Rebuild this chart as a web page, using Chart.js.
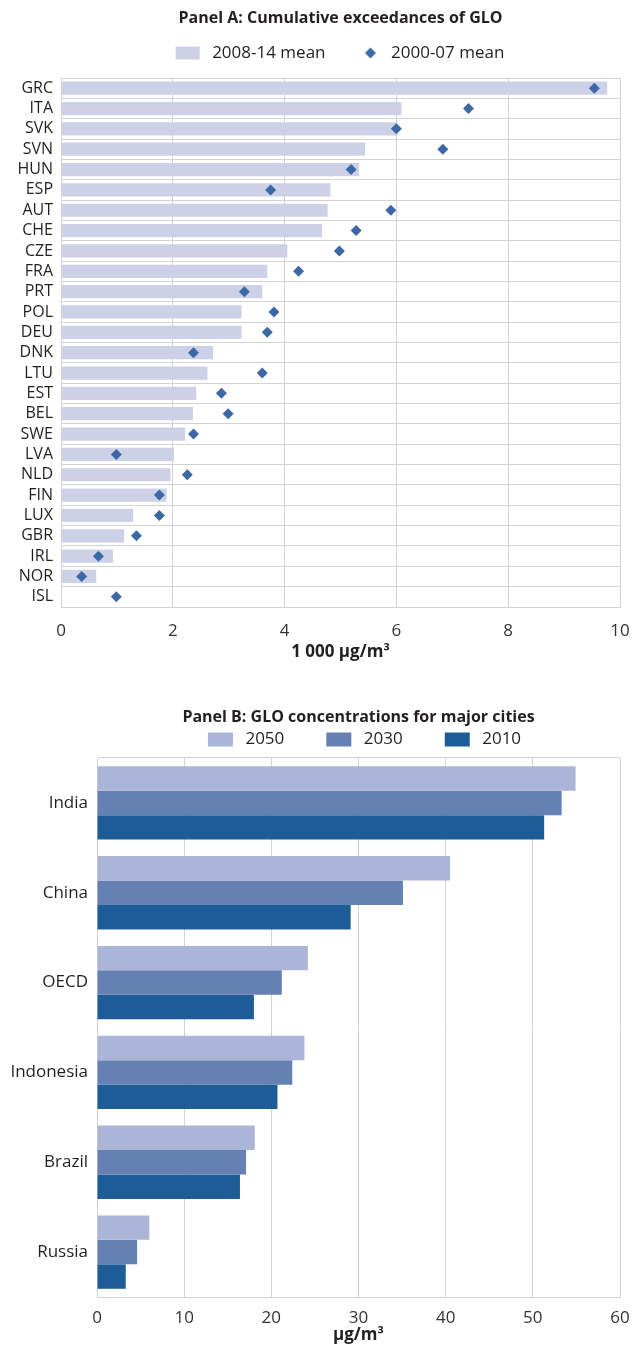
<!DOCTYPE html>
<html>
<head>
<meta charset="utf-8">
<script src="https://cdn.jsdelivr.net/npm/chart.js@4.4.1/dist/chart.umd.min.js"></script>
<style>
  html, body { margin: 0; padding: 0; background: #fff; overflow: hidden; }
  canvas { position: absolute; left: 0; }
  #chartA { top: 0; }
  #chartB { top: 680px; }
</style>
</head>
<body>
<canvas id="chartA" width="632" height="672"></canvas>
<canvas id="chartB" width="632" height="666"></canvas>
<script>
// Panel A data (1 000 µg/m³)
const countries = ["GRC", "ITA", "SVK", "SVN", "HUN", "ESP", "AUT", "CHE", "CZE", "FRA", "PRT", "POL", "DEU",
  "DNK", "LTU", "EST", "BEL", "SWE", "LVA", "NLD", "FIN", "LUX", "GBR", "IRL", "NOR", "ISL"];
const mean0814 = [9.77, 6.09, 6.02, 5.44, 5.33, 4.82, 4.77, 4.67, 4.05, 3.69, 3.60, 3.23, 3.23,
  2.72, 2.62, 2.42, 2.36, 2.22, 2.02, 1.96, 1.89, 1.29, 1.13, 0.93, 0.63, 0];
const mean0007 = [9.54, 7.29, 6.00, 6.83, 5.19, 3.75, 5.90, 5.28, 4.98, 4.25, 3.28, 3.81, 3.69,
  2.37, 3.60, 2.87, 2.99, 2.37, 0.99, 2.26, 1.76, 1.76, 1.35, 0.67, 0.37, 0.99];
const seriesA = ["2008-14 mean", "2000-07 mean"];

// Panel B data (µg/m³)
const cities = ["India", "China", "OECD", "Indonesia", "Brazil", "Russia"];
const years = ["2050", "2030", "2010"];
const glo2050 = [54.9, 40.5, 24.2, 23.8, 18.1, 6.0];
const glo2030 = [53.3, 35.1, 21.2, 22.4, 17.1, 4.6];
const glo2010 = [51.3, 29.1, 18.0, 20.7, 16.4, 3.3];

const FONT = "'Open Sans', 'Noto Sans', sans-serif";
const TEXT = "#231f20";
const GRID = "#d2d2d2";
const barA = "#cdd1e8";
const diamondA = "#3d68a6";
const colorsB = ["#abb5d7", "#6580b3", "#1d5c97"];

Chart.defaults.font.family = FONT;
Chart.defaults.color = TEXT;

// legend swatches drawn into small canvases so the gap before each one can be set
function swatch(w, h, draw) {
  const c = document.createElement("canvas");
  c.width = w;
  c.height = h;
  draw(c.getContext("2d"));
  return c;
}
const swatchesA = [
  swatch(40, 16, g => { g.fillStyle = barA; g.fillRect(12, 1.5, 24, 13); }),
  swatch(40, 16, g => {
    g.fillStyle = diamondA;
    g.beginPath();
    g.moveTo(28, 2.5); g.lineTo(33.5, 8); g.lineTo(28, 13.5); g.lineTo(22.5, 8);
    g.closePath();
    g.fill();
  })
];
const swatchesB = colorsB.map(col => swatch(61, 16, g => { g.fillStyle = col; g.fillRect(32, 1, 25, 14); }));

// put title / legend over the middle of the plot, not the canvas
const centerOnPlot = {
  id: "centerOnPlot",
  afterLayout(chart, args, opts) {
    const a = chart.chartArea;
    const t = chart.titleBlock;
    if (t) { t.left = a.left; t.right = a.right; t.width = a.right - a.left; }
    const l = chart.legend;
    if (l) {
      const s = opts.shift || 0;
      const up = opts.up || 0;
      l.left = a.left - s; l.right = a.right - s; l.width = a.right - a.left;
      l.top -= up; l.bottom -= up;
    }
  }
};

function legendWith(images) {
  return function (chart) {
    const items = Chart.defaults.plugins.legend.labels.generateLabels(chart);
    items.forEach(it => { it.pointStyle = images[it.datasetIndex]; });
    return items;
  };
}

// keep the plot's right edge at x = 620
const rightPad = s => { s.paddingRight = 12; };

new Chart(document.getElementById("chartA"), {
  type: "bar",
  plugins: [centerOnPlot],
  data: {
    labels: countries,
    datasets: [
      {
        label: seriesA[0],
        data: mean0814,
        backgroundColor: barA,
        barPercentage: 0.65,
        categoryPercentage: 1,
        order: 1
      },
      {
        type: "line",
        label: seriesA[1],
        data: mean0007,
        showLine: false,
        pointStyle: "rectRot",
        pointRadius: 5.5,
        pointBackgroundColor: diamondA,
        pointBorderWidth: 0,
        borderColor: diamondA,
        backgroundColor: diamondA,
        order: 0
      }
    ]
  },
  options: {
    responsive: false,
    animation: false,
    events: [],
    indexAxis: "y",
    layout: { padding: { left: 0, right: 0, top: 0, bottom: 9.8 } },
    scales: {
      x: {
        min: 0,
        max: 10,
        ticks: { stepSize: 2, padding: 13.8, font: { size: 17 }, color: "#333" },
        grid: { color: GRID, drawTicks: false },
        border: { color: GRID },
        title: {
          display: true,
          text: "1 000 µg/m³",
          font: { size: 17, weight: "bold" },
          padding: { top: -13.2, bottom: 0 }
        },
        afterFit: rightPad
      },
      y: {
        ticks: { padding: 8, font: { size: 16 }, color: TEXT, autoSkip: false },
        grid: { color: GRID, drawTicks: false },
        border: { color: GRID },
        afterFit: s => { s.width = 61; }
      }
    },
    plugins: {
      centerOnPlot: { shift: 6.5, up: 6.5 },
      title: {
        display: true,
        text: "Panel A: Cumulative exceedances of GLO",
        font: { size: 16, weight: "bold" },
        padding: { top: 8.4, bottom: 6.4 }
      },
      legend: {
        labels: {
          usePointStyle: true,
          pointStyleWidth: 40,
          padding: 17,
          font: { size: 17 },
          color: TEXT,
          generateLabels: legendWith(swatchesA),
          sort: (a, b) => a.datasetIndex - b.datasetIndex
        }
      },
      tooltip: { enabled: false }
    }
  }
});

new Chart(document.getElementById("chartB"), {
  type: "bar",
  plugins: [centerOnPlot],
  data: {
    labels: cities,
    datasets: [
      { label: years[0], data: glo2050, backgroundColor: colorsB[0] },
      { label: years[1], data: glo2030, backgroundColor: colorsB[1] },
      { label: years[2], data: glo2010, backgroundColor: colorsB[2] }
    ]
  },
  options: {
    responsive: false,
    animation: false,
    events: [],
    indexAxis: "y",
    datasets: { bar: { barPercentage: 1, categoryPercentage: 0.817 } },
    layout: { padding: { left: 0, right: 0, top: 0, bottom: 0.8 } },
    scales: {
      x: {
        min: 0,
        max: 60,
        ticks: { stepSize: 10, padding: 10.8, font: { size: 17 }, color: "#333" },
        grid: { color: GRID, drawTicks: false },
        border: { color: GRID },
        title: {
          display: true,
          text: "µg/m³",
          font: { size: 17, weight: "bold" },
          padding: { top: -14.2, bottom: 0 }
        },
        afterFit: rightPad
      },
      y: {
        ticks: { padding: 9, font: { size: 17 }, color: TEXT },
        grid: {
          drawTicks: false,
          color: c => (c.index === 0 ? GRID : "rgba(0,0,0,0)")
        },
        border: { color: GRID },
        afterFit: s => { s.width = 97; }
      }
    },
    plugins: {
      centerOnPlot: { shift: 10 },
      title: {
        display: true,
        text: "Panel B: GLO concentrations for major cities",
        font: { size: 16, weight: "bold" },
        padding: { top: 27.4, bottom: -5.6 }
      },
      legend: {
        labels: {
          usePointStyle: true,
          pointStyleWidth: 61,
          padding: 10,
          font: { size: 17 },
          color: TEXT,
          generateLabels: legendWith(swatchesB)
        }
      },
      tooltip: { enabled: false }
    }
  }
});
</script>
</body>
</html>
